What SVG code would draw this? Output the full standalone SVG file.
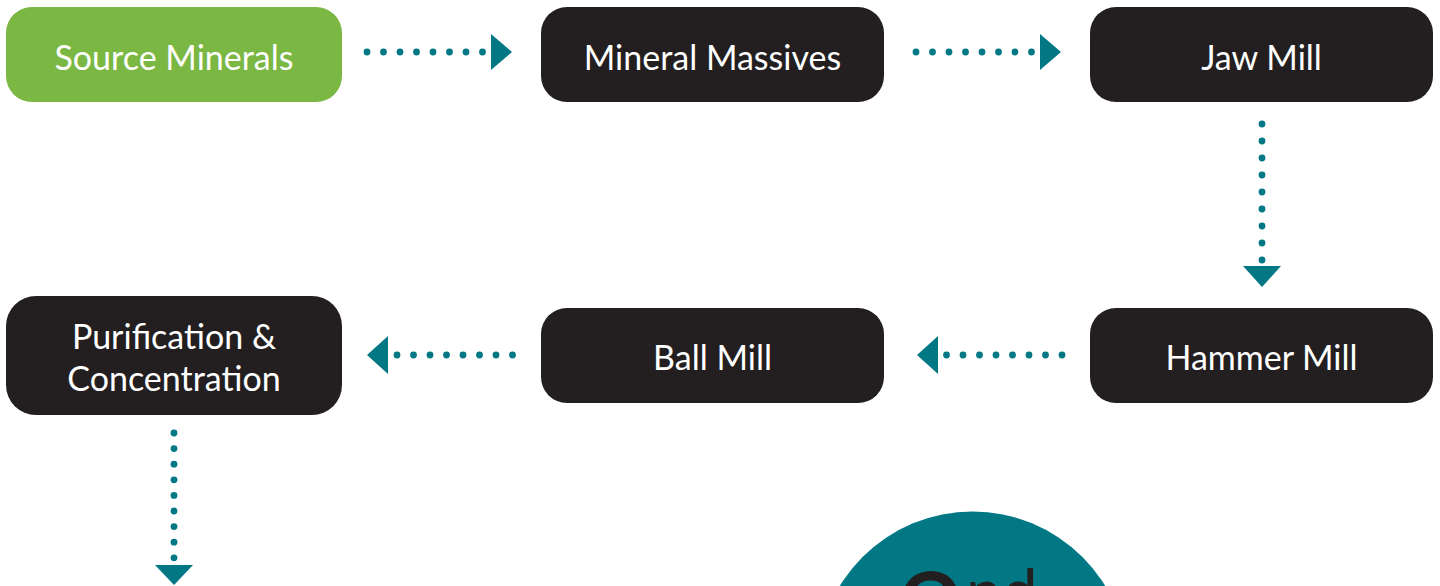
<svg xmlns="http://www.w3.org/2000/svg" width="1440" height="586" viewBox="0 0 1440 586">
<style>
.box{fill:#231f20}
.green{fill:#7ab743}
.lbl{font-family:Lato,"Open Sans","Liberation Sans",sans-serif;font-size:34px;fill:#ffffff;text-anchor:middle}
.dot{fill:#027885}
.head{fill:#027885}
</style>
<defs>
<g id="hdots">
<circle cx="0" cy="0" r="3.4"/><circle cx="16.5" cy="0" r="3.4"/><circle cx="33" cy="0" r="3.4"/><circle cx="49.5" cy="0" r="3.4"/><circle cx="66" cy="0" r="3.4"/><circle cx="82.5" cy="0" r="3.4"/><circle cx="99" cy="0" r="3.4"/><circle cx="115.5" cy="0" r="3.4"/>
</g>
</defs>
<rect width="1440" height="586" fill="#ffffff"/>
<g id="n-source"><rect class="green" x="6" y="7" width="336" height="95" rx="26"/><text class="lbl" x="174" y="70">Source Minerals</text></g>
<g id="n-massives"><rect class="box" x="541" y="7" width="343" height="95" rx="26"/><text class="lbl" x="712.5" y="70">Mineral Massives</text></g>
<g id="n-jaw"><rect class="box" x="1090" y="7" width="343" height="95" rx="26"/><text class="lbl" x="1261.5" y="70">Jaw Mill</text></g>
<g id="n-hammer"><rect class="box" x="1090" y="308" width="343" height="95" rx="26"/><text class="lbl" x="1261.5" y="370">Hammer Mill</text></g>
<g id="n-ball"><rect class="box" x="541" y="308" width="343" height="95" rx="26"/><text class="lbl" x="712.5" y="370">Ball Mill</text></g>
<g id="n-purification"><rect class="box" x="6" y="296" width="336" height="119" rx="30"/><text class="lbl" x="174" y="349">Purification &amp;</text><text class="lbl" x="174" y="391">Concentration</text></g>
<g id="n-second">
<circle cx="972.5" cy="667" r="155.5" fill="#027885"/>
<text x="895" y="660" font-family="Lato,'Open Sans','Liberation Sans',sans-serif" font-size="122" fill="#231f20">2<tspan font-size="64" x="966" y="615">nd</tspan></text>
</g>
<g id="connectors" class="dot">
<use href="#hdots" x="367" y="52"/>
<polygon class="head" points="491,34 512,52 491,70"/>
<use href="#hdots" x="916" y="52"/>
<polygon class="head" points="1040,34 1061,52 1040,70"/>
<g>
<circle cx="1262" cy="124" r="3.4"/><circle cx="1262" cy="141" r="3.4"/><circle cx="1262" cy="158" r="3.4"/><circle cx="1262" cy="175" r="3.4"/><circle cx="1262" cy="192" r="3.4"/><circle cx="1262" cy="209" r="3.4"/><circle cx="1262" cy="226" r="3.4"/><circle cx="1262" cy="243" r="3.4"/><circle cx="1262" cy="260" r="3.4"/>
</g>
<polygon class="head" points="1243,266 1281,266 1262,287"/>
<use href="#hdots" x="946.5" y="355"/>
<polygon class="head" points="938,336 917,355 938,374"/>
<use href="#hdots" x="397" y="355"/>
<polygon class="head" points="388,336 367,355 388,374"/>
<g>
<circle cx="174" cy="433" r="3.4"/><circle cx="174" cy="448.6" r="3.4"/><circle cx="174" cy="464.2" r="3.4"/><circle cx="174" cy="479.8" r="3.4"/><circle cx="174" cy="495.4" r="3.4"/><circle cx="174" cy="511" r="3.4"/><circle cx="174" cy="526.6" r="3.4"/><circle cx="174" cy="542.2" r="3.4"/><circle cx="174" cy="557.8" r="3.4"/>
</g>
<polygon class="head" points="155,565 193,565 174,585"/>
</g>
</svg>
